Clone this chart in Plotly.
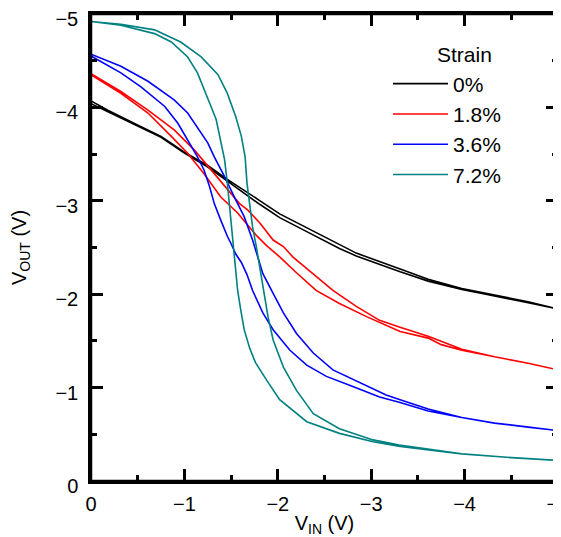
import plotly.graph_objects as go

# ---------------- data ----------------
strain_labels = ["0%", "1.8%", "3.6%", "7.2%"]
line_colors = ["#000000", "#ff0000", "#0000ff", "#008080"]
legend_title = "Strain"

tick_values = [0, -1, -2, -3, -4, -5]
tick_labels = ["0", "\u22121", "\u22122", "\u22123", "\u22124", "\u22125"]
minor_values = [-0.5, -1.5, -2.5, -3.5, -4.5]

# 0 % strain: sweep A (upper branch) and sweep B (lower branch)
vin_0_a = [0, -0.18, -0.46, -0.75, -1.0, -1.25, -1.46, -1.68, -1.81, -2.02, -2.31, -2.66, -2.84, -3.31, -3.61, -3.97, -4.32, -4.68, -5.0]
vout_0_a = [-4.07, -3.97, -3.83, -3.69, -3.52, -3.38, -3.23, -3.09, -3.00, -2.86, -2.71, -2.53, -2.44, -2.27, -2.16, -2.06, -1.99, -1.92, -1.84]
vin_0_b = [0, -0.18, -0.46, -0.75, -1.0, -1.25, -1.46, -1.68, -1.81, -2.02, -2.31, -2.66, -2.84, -3.31, -3.61, -3.97, -4.32, -4.68, -5.0]
vout_0_b = [-4.04, -3.95, -3.82, -3.68, -3.51, -3.36, -3.21, -3.05, -2.96, -2.82, -2.67, -2.49, -2.41, -2.24, -2.14, -2.05, -1.98, -1.91, -1.84]

# 1.8 % strain
vin_18_a = [0, -0.32, -0.61, -0.89, -1.11, -1.285, -1.46, -1.59, -1.68, -1.81, -1.95, -2.06, -2.16, -2.38, -2.59, -2.84, -3.09, -3.30, -3.61, -3.97, -4.32, -4.68, -5.0]
vout_18_a = [-4.36, -4.17, -3.97, -3.76, -3.54, -3.33, -3.12, -2.97, -2.90, -2.76, -2.58, -2.51, -2.40, -2.22, -2.04, -1.87, -1.72, -1.65, -1.55, -1.41, -1.33, -1.26, -1.19]
vin_18_b = [0, -0.32, -0.61, -0.86, -1.035, -1.21, -1.39, -1.57, -1.77, -1.88, -2.02, -2.20, -2.41, -2.66, -2.95, -3.31, -3.61, -3.75, -3.97, -4.32, -4.68, -5.0]
vout_18_b = [-4.35, -4.15, -3.94, -3.69, -3.51, -3.29, -3.04, -2.87, -2.63, -2.52, -2.40, -2.23, -2.04, -1.90, -1.76, -1.60, -1.53, -1.46, -1.40, -1.33, -1.26, -1.19]

# 3.6 % strain
vin_36_a = [0, -0.32, -0.61, -0.89, -1.035, -1.14, -1.25, -1.32, -1.43, -1.535, -1.64, -1.73, -1.84, -1.95, -2.06, -2.20, -2.38, -2.59, -2.88, -3.16, -3.31, -3.61, -3.97, -4.32, -4.68, -5.0]
vout_36_a = [-4.57, -4.44, -4.28, -4.08, -3.94, -3.79, -3.62, -3.47, -3.26, -3.04, -2.83, -2.58, -2.22, -2.01, -1.80, -1.58, -1.37, -1.19, -1.05, -0.92, -0.87, -0.77, -0.68, -0.62, -0.575, -0.54]
vin_36_b = [0, -0.32, -0.535, -0.79, -0.93, -1.035, -1.14, -1.21, -1.27, -1.32, -1.39, -1.46, -1.50, -1.55, -1.61, -1.67, -1.73, -1.84, -1.95, -2.13, -2.31, -2.52, -2.81, -3.09, -3.31, -3.61, -3.97, -4.32, -4.68, -5.0]
vout_36_b = [-4.55, -4.37, -4.22, -4.01, -3.83, -3.65, -3.47, -3.33, -3.15, -2.97, -2.79, -2.62, -2.54, -2.43, -2.34, -2.21, -2.04, -1.80, -1.62, -1.40, -1.24, -1.12, -1.01, -0.90, -0.84, -0.75, -0.68, -0.62, -0.575, -0.54]

# 7.2 % strain
vin_72_a = [0, -0.32, -0.68, -0.96, -1.18, -1.36, -1.46, -1.55, -1.61, -1.65, -1.67, -1.70, -1.73, -1.77, -1.82, -1.895, -1.95, -2.06, -2.20, -2.38, -2.66, -3.02, -3.30, -3.97, -4.5, -5.0]
vout_72_a = [-4.92, -4.89, -4.83, -4.70, -4.54, -4.35, -4.15, -3.90, -3.69, -3.47, -3.19, -2.97, -2.72, -2.51, -2.22, -1.76, -1.51, -1.22, -0.97, -0.72, -0.56, -0.44, -0.385, -0.29, -0.25, -0.22]
vin_72_b = [0, -0.32, -0.68, -0.86, -1.035, -1.14, -1.21, -1.285, -1.34, -1.39, -1.43, -1.46, -1.49, -1.52, -1.545, -1.57, -1.60, -1.64, -1.70, -1.76, -1.88, -2.02, -2.31, -2.66, -3.02, -3.31, -3.97, -4.5, -5.0]
vout_72_b = [-4.92, -4.88, -4.79, -4.70, -4.54, -4.37, -4.19, -4.01, -3.87, -3.62, -3.44, -3.19, -2.90, -2.56, -2.30, -2.04, -1.85, -1.62, -1.42, -1.27, -1.08, -0.87, -0.635, -0.51, -0.42, -0.37, -0.29, -0.25, -0.22]

sweeps = [
    (vin_0_a, vout_0_a, vin_0_b, vout_0_b),
    (vin_18_a, vout_18_a, vin_18_b, vout_18_b),
    (vin_36_a, vout_36_a, vin_36_b, vout_36_b),
    (vin_72_a, vout_72_a, vin_72_b, vout_72_b),
]

FONT = "Liberation Sans, Arial, Helvetica, sans-serif"

fig = go.Figure()
for label, color, (xa, ya, xb, yb) in zip(strain_labels, line_colors, sweeps):
    # forward sweep then backward sweep -> one hysteresis loop per strain
    fig.add_trace(go.Scatter(
        x=xa + xb[::-1], y=ya + yb[::-1],
        mode="lines", name=label,
        line=dict(color=color, width=1.6),
    ))

axis_common = dict(
    automargin=False,
    showgrid=False, zeroline=False,
    showline=True, linecolor="black", linewidth=2.5, mirror="allticks",
    ticks="inside", ticklen=12, tickwidth=2.5, tickcolor="black",
    tickvals=tick_values, ticktext=tick_labels,
    tickfont=dict(family=FONT, size=20, color="black"),
    ticklabeloverflow="allow",
    minor=dict(tickvals=minor_values, ticks="inside", ticklen=6,
               tickwidth=2.5, tickcolor="black", showgrid=False),
)

fig.update_layout(
    width=553, height=529,
    margin=dict(l=83, r=3, t=6, b=56),
    paper_bgcolor="white", plot_bgcolor="white",
    font=dict(family=FONT, size=20, color="black"),
    xaxis=dict(range=[0, -5], ticklabelstandoff=3,
               title=dict(text="V<sub>IN</sub> (V)", font=dict(family=FONT, size=20), standoff=16),
               **axis_common),
    yaxis=dict(range=[0, -5], ticklabelstandoff=6, ticklabelshift=-5,
               title=dict(text="V<sub>OUT</sub> (V)", font=dict(family=FONT, size=20), standoff=29),
               **axis_common),
    shapes=[dict(type="rect", xref="paper", yref="paper", x0=0, y0=0, x1=1, y1=1,
                 line=dict(color="black", width=2.5), layer="above")],
    annotations=[dict(text=legend_title, xref="paper", yref="paper", x=0.799, y=0.9135,
                      xanchor="center", yanchor="middle", showarrow=False,
                      font=dict(family=FONT, size=21, color="black"))],
    showlegend=True,
    legend=dict(
        font=dict(family=FONT, size=21, color="black"),
        x=0.636, y=0.894, xanchor="left", yanchor="top",
        itemwidth=55,
        bgcolor="rgba(0,0,0,0)", borderwidth=0,
    ),
)

fig.write_html("out.html")
